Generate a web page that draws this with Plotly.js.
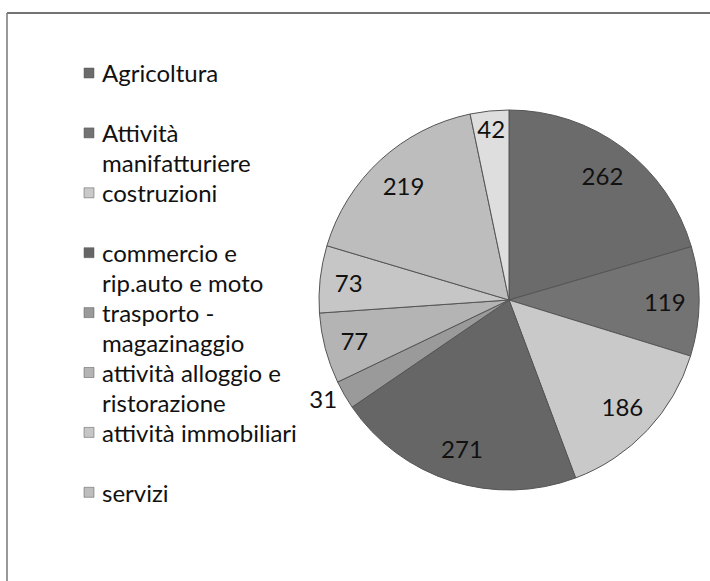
<!DOCTYPE html>
<html>
<head>
<meta charset="utf-8">
<script src="https://cdn.plot.ly/plotly-3.0.1.min.js"></script>
<style>
html,body{margin:0;padding:0;background:#fff;}
#chart{width:710px;height:581px;}
</style>
</head>
<body>
<div id="chart"></div>
<script>
// Data
const categories = ['Agricoltura', 'Attività manifatturiere', 'costruzioni',
  'commercio e rip.auto e moto', 'trasporto - magazinaggio',
  'attività alloggio e ristorazione', 'attività immobiliari', 'servizi', 'altro'];
const values = [262, 119, 186, 271, 31, 77, 73, 219, 42];
const legendLines = [
  ['Agricoltura'],
  ['Attività', 'manifatturiere'],
  ['costruzioni'],
  ['commercio e', 'rip.auto e moto'],
  ['trasporto -', 'magazinaggio'],
  ['attività alloggio e', 'ristorazione'],
  ['attività immobiliari'],
  ['servizi']
];
const colors = ['#6b6b6b', '#737373', '#c9c9c9', '#666666', '#9a9a9a',
  '#b4b4b4', '#c6c6c6', '#bdbdbd', '#dedede'];
const textPos = ['inside', 'inside', 'inside', 'inside', 'outside',
  'inside', 'inside', 'inside', 'inside'];

const W = 710, H = 581;
const px = x => x / W;
const py = y => 1 - y / H;

const FONT = 'Lato, "Liberation Sans", sans-serif';
const pieDomain = {x: [px(319), px(699)], y: [py(490), py(110)]};

// colored pie (no text)
const piePaint = {
  type: 'pie',
  labels: categories,
  values: values,
  sort: false,
  direction: 'clockwise',
  rotation: 0,
  marker: {colors: colors, line: {color: '#555555', width: 1}},
  textinfo: 'none',
  hoverinfo: 'label+value',
  showlegend: false,
  domain: pieDomain
};

// transparent ring carrying the data labels (places them near the rim, like Excel)
const pieLabels = {
  type: 'pie',
  labels: categories,
  values: values,
  sort: false,
  direction: 'clockwise',
  rotation: 0,
  hole: 0.64,
  marker: {colors: categories.map(() => 'rgba(0,0,0,0)'), line: {width: 0}},
  texttemplate: '%{value}',
  textposition: textPos,
  insidetextorientation: 'horizontal',
  textfont: {family: FONT, size: 24, color: '#111111'},
  outsidetextfont: {family: FONT, size: 24, color: '#111111'},
  hoverinfo: 'skip',
  showlegend: false,
  domain: pieDomain
};

const annotations = [];
const shapes = [];
legendLines.forEach((lines, i) => {
  const top = 73 + 59.9 * i;
  shapes.push({
    type: 'rect', xref: 'paper', yref: 'paper',
    x0: px(84), x1: px(94), y0: py(top - 5), y1: py(top + 5),
    fillcolor: colors[i], line: {color: '#555555', width: 0.5}
  });
  lines.forEach((t, j) => {
    annotations.push({
      xref: 'paper', yref: 'paper',
      x: px(100), y: py(top + 30 * j),
      xanchor: 'left', yanchor: 'middle',
      text: t, showarrow: false,
      font: {family: FONT, size: 24, color: '#111111'}
    });
  });
});

// chart frame (top and left edges visible)
shapes.push({type: 'line', xref: 'paper', yref: 'paper',
  x0: px(7), x1: 1, y0: py(13), y1: py(13), line: {color: '#444444', width: 1.5}});
shapes.push({type: 'line', xref: 'paper', yref: 'paper',
  x0: px(7), x1: px(7), y0: py(13), y1: 0, line: {color: '#777777', width: 1.5}});

const layout = {
  width: W, height: H,
  margin: {l: 0, r: 0, t: 0, b: 0},
  paper_bgcolor: '#ffffff',
  showlegend: false,
  uniformtext: {minsize: 24, mode: 'show'},
  annotations: annotations,
  shapes: shapes
};

Plotly.newPlot('chart', [piePaint, pieLabels], layout, {displayModeBar: false, staticPlot: true});
</script>
</body>
</html>
